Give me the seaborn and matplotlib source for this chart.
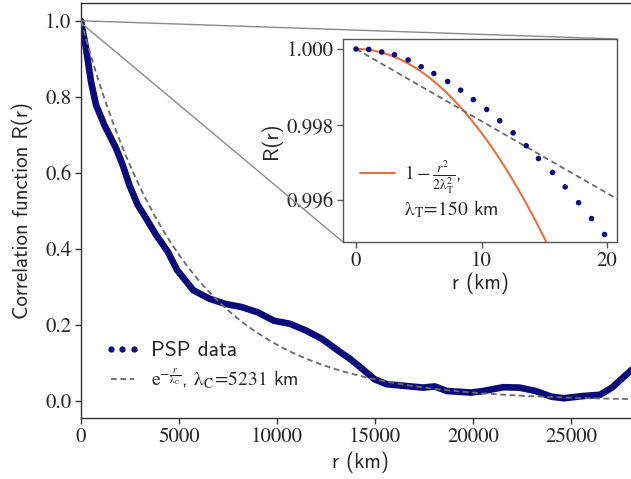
import numpy as np
import pandas as pd
import matplotlib
matplotlib.use("Agg")
import matplotlib.pyplot as plt
import seaborn as sns
from matplotlib.lines import Line2D
from mpl_toolkits.axes_grid1.inset_locator import mark_inset

# ---- data ----
r_main = [0, 33, 255, 510, 765, 1190, 1445, 1786, 2126, 2466, 2891, 3316, 3827,
          4422, 4909, 5731, 6552, 7374, 8195, 9017, 9839, 10660, 11482, 12303,
          13125, 13741, 14357, 14974, 15590, 16411, 17438, 18054, 18670, 19903,
          20519, 21546, 22368, 23190, 24011, 24627, 25654, 26476, 27092, 27709,
          28100]
R_main = [1.000, 0.989, 0.928, 0.840, 0.779, 0.726, 0.700, 0.665, 0.621, 0.568,
          0.516, 0.481, 0.437, 0.393, 0.344, 0.291, 0.269, 0.255, 0.247, 0.233,
          0.211, 0.203, 0.185, 0.163, 0.132, 0.110, 0.084, 0.057, 0.044, 0.040,
          0.035, 0.038, 0.026, 0.022, 0.026, 0.036, 0.035, 0.026, 0.011, 0.007,
          0.013, 0.016, 0.035, 0.064, 0.082]

r_inset = [0, 1.01, 2.05, 3.06, 4.15, 5.19, 6.20, 7.30, 8.34, 9.35, 10.41, 11.45,
           12.52, 13.56, 14.54, 15.66, 16.67, 17.74, 18.77, 19.81]
R_inset = [1.00000, 0.99999, 0.99992, 0.99985, 0.99971, 0.99953, 0.99935, 0.99914,
           0.99891, 0.99866, 0.99840, 0.99810, 0.99778, 0.99744, 0.99710, 0.99673,
           0.99635, 0.99593, 0.99551, 0.99509]

lambda_C = 5231   # km, exponential fit
lambda_T = 150    # km, Taylor scale

x_ticks_main = [0, 5000, 10000, 15000, 20000, 25000]
x_labels_main = ["0", "5000", "10000", "15000", "20000", "25000"]
y_ticks_main = [0.0, 0.2, 0.4, 0.6, 0.8, 1.0]
y_labels_main = ["0.0", "0.2", "0.4", "0.6", "0.8", "1.0"]
x_ticks_inset = [0, 10, 20]
x_labels_inset = ["0", "10", "20"]
y_ticks_inset = [0.996, 0.998, 1.000]
y_labels_inset = ["0.996", "0.998", "1.000"]

# ---- style ----
sns.set_style("ticks")
plt.rcParams["font.family"] = ["cmss10", "DejaVu Sans"]
plt.rcParams["mathtext.fontset"] = "stix"
plt.rcParams["axes.unicode_minus"] = False

NAVY = "#0b0b7a"
ORANGE = "#ea6f3c"
DASH = "#6a6a6a"
SPINE = "#333333"
FS = 15
SERIF = "STIXGeneral"
DASHES = (3.2, 2.0)

fig = plt.figure(figsize=(6.31, 4.79), dpi=100)
W, H = 631, 479
x_right_px = 640
ax = fig.add_axes([81 / W, 1 - 418 / H, (x_right_px - 81) / W, 415 / H])
xmax = (x_right_px - 81) / 98 * 5000

df_main = pd.DataFrame({"r": r_main, "R": R_main})
sns.lineplot(data=df_main, x="r", y="R", ax=ax, color=NAVY, lw=4.8,
             solid_capstyle="round", solid_joinstyle="round", zorder=2)
r_fit = np.linspace(0, xmax, 400)
df_fit = pd.DataFrame({"r": r_fit, "R": np.exp(-r_fit / lambda_C)})
sns.lineplot(data=df_fit, x="r", y="R", ax=ax, color=DASH, lw=1.3,
             dashes=DASHES, zorder=3)
ax.lines[-1].set_dashes(DASHES)

ax.set_xlim(0, xmax)
ax.set_ylim(-0.045, 1.047)
ax.set_xticks(x_ticks_main, labels=x_labels_main, fontfamily=SERIF, fontsize=FS)
ax.set_yticks(y_ticks_main, labels=y_labels_main, fontfamily=SERIF, fontsize=FS)
ax.set_xlabel("r (km)", fontsize=FS, labelpad=3)
ax.set_ylabel("Correlation function R(r)", fontsize=FS, labelpad=9)
ax.tick_params(direction="out", length=4, width=1, color=SPINE, pad=3)
for s in ax.spines.values():
    s.set_color(SPINE)
    s.set_linewidth(1.0)

h_dots = Line2D([], [], ls="none", marker="o", ms=3.5, color=NAVY)
h_dash = Line2D([], [], lw=1.3, color=DASH, dashes=DASHES)
leg = ax.legend([h_dots, h_dash],
                ["PSP data",
                 r"$\mathrm{e}^{-\frac{r}{\mathrm{\lambda}_\mathrm{C}}}$, $\mathrm{\lambda}_\mathrm{C}\!=\!5231$ km"],
                loc="lower left", bbox_to_anchor=(95 / W, 1 - 401 / H),
                bbox_transform=fig.transFigure, frameon=False, numpoints=3,
                handlelength=1.8, handletextpad=0.6, borderpad=0, labelspacing=0.35,
                fontsize=14)
leg.get_texts()[0].set_fontsize(15.5)

# ---- inset ----
axins = fig.add_axes([343 / W, 1 - 242 / H, 274 / W, 203 / H])
r_t = np.linspace(0, 21, 200)
df_t = pd.DataFrame({"r": r_t, "R": 1 - r_t ** 2 / (2 * lambda_T ** 2)})
df_e = pd.DataFrame({"r": r_t, "R": np.exp(-r_t / lambda_C)})
sns.lineplot(data=df_t, x="r", y="R", ax=axins, color=ORANGE, lw=1.5, zorder=2)
sns.lineplot(data=df_e, x="r", y="R", ax=axins, color=DASH, lw=1.3, zorder=2)
axins.lines[-1].set_dashes(DASHES)
df_in = pd.DataFrame({"r": r_inset, "R": R_inset})
sns.scatterplot(data=df_in, x="r", y="R", ax=axins, color=NAVY, s=16,
                edgecolor="none", zorder=3)
axins.set_xlim(-1.04, 20.8)
axins.set_ylim(0.99489, 1.000265)
axins.set_xticks(x_ticks_inset, labels=x_labels_inset, fontfamily=SERIF, fontsize=FS)
axins.set_yticks(y_ticks_inset, labels=y_labels_inset, fontfamily=SERIF, fontsize=FS)
axins.set_xlabel("r (km)", fontsize=FS, labelpad=1)
axins.set_ylabel("R(r)", fontsize=FS, labelpad=3)
axins.tick_params(direction="out", length=4, width=1, color="#555555", pad=3)
for s in axins.spines.values():
    s.set_color("#555555")
    s.set_linewidth(1.0)

h_or = Line2D([], [], color=ORANGE, lw=1.5)
h_none = Line2D([], [], color="none")
leg2 = axins.legend([h_or, h_none],
                    [r"$1-\frac{r^2}{2\mathrm{\lambda}_\mathrm{T}^2}$,",
                     r"$\mathrm{\lambda}_\mathrm{T}\!=\!150$ km"],
                    loc="lower left", bbox_to_anchor=(350 / W, 1 - 230 / H),
                    bbox_transform=fig.transFigure, frameon=False,
                    handlelength=1.8, handletextpad=0.5, borderpad=0,
                    labelspacing=0.2, fontsize=14)

mark_inset(ax, axins, loc1=1, loc2=3, fc="none", ec="#8a8a8a", lw=1.0)

fig.savefig("out.png", dpi=100)
